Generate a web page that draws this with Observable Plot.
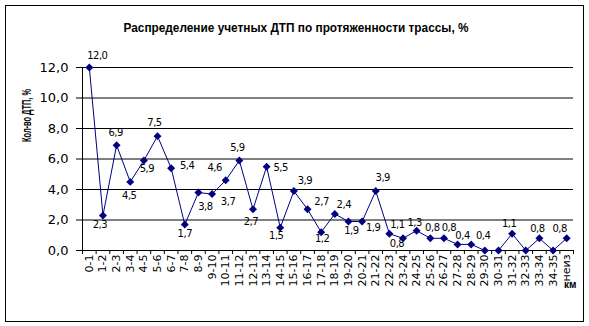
<!DOCTYPE html>
<html>
<head>
<meta charset="utf-8">
<script src="https://cdn.jsdelivr.net/npm/d3@7"></script>
<script src="https://cdn.jsdelivr.net/npm/@observablehq/plot@0.6"></script>
<style>
  body { margin: 0; background: #fff; }
  #wrap { position: relative; width: 589px; height: 326px; overflow: hidden; }
  #frame { position: absolute; left: 5px; top: 5px; width: 579px; height: 317px; box-sizing: border-box; border: 1px solid #000; pointer-events: none; }
</style>
</head>
<body>
<div id="wrap"><div id="frame"></div></div>
<script>
const title = "Распределение учетных ДТП по протяженности трассы, %";
const yTitle = "Кол-во ДТП, %";
const xUnit = "км";
const categories = ["0-1","1-2","2-3","3-4","4-5","5-6","6-7","7-8","8-9","9-10","10-11","11-12","12-13","13-14","14-15","15-16","16-17","17-18","18-19","19-20","20-21","21-22","22-23","23-24","24-25","25-26","26-27","27-28","28-29","29-30","30-31","31-32","32-33","33-34","34-35","неиз"];
const values = [12.0,2.3,6.9,4.5,5.9,7.5,5.4,1.7,3.8,3.7,4.6,5.9,2.7,5.5,1.5,3.9,2.7,1.2,2.4,1.9,1.9,3.9,1.1,0.8,1.3,0.8,0.8,0.4,0.4,0,0,1.1,0,0.8,0,0.8];
const yTicks = [0,2,4,6,8,10,12];
// label placement offsets (pixels relative to each point); null = no label
const labelOffsets = [[8,-12],[-3,9],[-1,-12],[-1,14],[3,8],[-3,-13],[16,-2],[0,9],[7,14],[16,8],
  [-11,-13],[-2,-13],[-2,12],[14,1],[-4,8],[11,-10],[14,-8],[1,7],[9,-9],[3,9],
  [11,6],[7,-13],[8,-9],[-6,5],[-2,-8],[2,-11],[5,-11],[5,-9],[12,-9],null,
  null,[-3,-10],null,[-2,-10],null,[-7,-10]];

const fmt = v => v.toFixed(1).replace(".", ",");
const data = categories.map((c, i) => ({i, c, v: values[i], off: labelOffsets[i]}));
const navy = "#000080";
const narrow = "'Liberation Sans Narrow', 'Liberation Sans', Arial, sans-serif";

const labelMarks = data.filter(d => d.off).map(d =>
  Plot.text([d], {x: "i", y: "v", text: d => fmt(d.v), dx: d.off[0], dy: d.off[1], fontSize: 10, fill: "#000"})
);

const chart = Plot.plot({
  width: 589,
  height: 326,
  marginLeft: 82,
  marginRight: 16,
  marginTop: 67,
  marginBottom: 76,
  style: {fontFamily: "'DejaVu Sans', Verdana, sans-serif", background: "transparent", overflow: "visible", color: "#000"},
  x: {type: "linear", domain: [-0.5, categories.length - 0.5]},
  y: {domain: [0, 12]},
  marks: [
    Plot.gridY(yTicks.slice(1), {stroke: "#000", strokeOpacity: 1, strokeWidth: 1}),
    Plot.ruleY([0], {stroke: "#000"}),
    Plot.ruleX([-0.5], {stroke: "#000"}),
    Plot.axisY({ticks: yTicks, tickFormat: fmt, tickSize: 6, tickPadding: 8, fontSize: 13, label: null}),
    Plot.axisX({ticks: d3.range(-0.5, categories.length, 1), tickSize: 4, tickFormat: () => "", label: null}),
    Plot.axisX({ticks: d3.range(categories.length), tickSize: 0, tickPadding: 4, tickRotate: -90, tickFormat: i => categories[i], fontSize: 11, label: null}),
    Plot.line(data, {x: "i", y: "v", stroke: navy, strokeWidth: 1}),
    Plot.dot(data, {x: "i", y: "v", symbol: "diamond2", r: 3.6, fill: navy, stroke: "none"}),
    ...labelMarks,
    Plot.text([title], {frameAnchor: "top", dx: -32, dy: -45, fontWeight: "bold", fontSize: 13.5, fontFamily: narrow, fill: "#000"}),
    Plot.text([yTitle], {frameAnchor: "left", rotate: -90, dx: -56, dy: -17, fontWeight: "bold", fontSize: 13, fontFamily: narrow, fill: "#000"}),
    Plot.text([xUnit], {frameAnchor: "bottom-right", dx: 3, dy: 37, fontWeight: "bold", fontSize: 10, fontFamily: narrow, fill: "#000"})
  ]
});

chart.querySelectorAll("text").forEach(t => {
  if (t.textContent === title) { t.setAttribute("textLength", 345); t.setAttribute("lengthAdjust", "spacingAndGlyphs"); }
  if (t.textContent === yTitle) { t.setAttribute("textLength", 53); t.setAttribute("lengthAdjust", "spacingAndGlyphs"); }
});
chart.querySelectorAll('g[aria-label="text"] text').forEach(t => {
  if (/^\d+,\d$/.test(t.textContent)) t.style.letterSpacing = "-0.5px";
});
document.getElementById("wrap").prepend(chart);
</script>
</body>
</html>
